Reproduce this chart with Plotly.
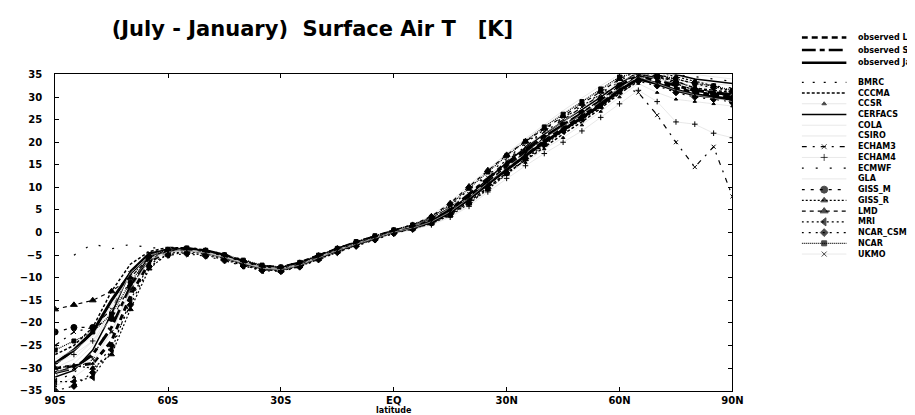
import plotly.graph_objects as go

W, H = 915, 415

lat = [-90, -85, -80, -75, -70, -65, -60, -55, -50, -45, -40, -35, -30, -25, -20, -15, -10, -5,
       0, 5, 10, 15, 20, 25, 30, 35, 40, 45, 50, 55, 60, 65, 70, 75, 80, 85, 90]
x_tickvals = [-90, -60, -30, 0, 30, 60, 90]
x_ticktext = ["90S", "60S", "30S", "EQ", "30N", "60N", "90N"]
y_tickvals = [-35, -30, -25, -20, -15, -10, -5, 0, 5, 10, 15, 20, 25, 30, 35]

obs_legates = [-30, -29.5, -29, -24, -14, -6.5, -4, -3.6, -4.2, -5.3, -6.6, -7.6, -7.9, -6.9, -5.3, -3.8, -2.4, -1.1,
               0.3, 1.2, 2.6, 4.8, 7.8, 11.2, 14.5, 17.6, 20.6, 23.4, 26.0, 28.6, 31.8, 34.5, 33.5, 32.0, 31.0, 30.5, 30.0]
obs_shea = [-31, -30, -27, -21, -12, -5.5, -3.7, -3.5, -4.0, -5.0, -6.4, -7.5, -7.7, -6.7, -5.1, -3.6, -2.2, -0.9,
            0.4, 1.4, 3.0, 5.3, 8.5, 12.0, 15.2, 18.3, 21.2, 23.8, 26.4, 29.2, 32.4, 35.0, 34.0, 32.5, 31.5, 31.0, 30.5]
obs_jaeger = [-29, -26, -22, -15, -9, -5, -3.9, -3.7, -4.3, -5.4, -6.8, -7.9, -8.0, -7.0, -5.5, -3.9, -2.5, -1.2,
              0.2, 1.0, 2.4, 4.5, 7.4, 10.8, 14.0, 17.0, 20.0, 22.8, 25.5, 28.2, 31.5, 34.0, 33.0, 31.5, 30.5, 30.0, 29.5]
bmrc = [-33, -31, -27.5, -20, -10, -5, -3.5, -3.2, -3.8, -4.8, -6.0, -7.2, -7.5, -6.5, -5.0, -3.4, -2.0, -0.7,
        0.6, 1.8, 3.5, 6.0, 9.5, 13.0, 16.5, 19.8, 22.8, 25.5, 28.0, 30.6, 33.5, 36.0, 35.0, 34.0, 33.0, 32.5, 32.0]
cccma = [-27, -25, -21, -13, -7, -4.2, -3.3, -3.4, -4.1, -5.2, -6.5, -7.6, -8.1, -7.2, -5.6, -4.0, -2.6, -1.3,
         0.0, 0.9, 2.2, 4.0, 6.8, 10.0, 13.2, 16.0, 19.0, 21.8, 24.5, 27.5, 30.8, 33.5, 34.5, 33.5, 32.0, 31.5, 31.0]
ccsr = [-34, -32, -29, -22, -13, -6, -4.5, -4.3, -4.8, -5.8, -7.0, -8.1, -8.4, -7.4, -5.9, -4.3, -2.9, -1.5,
        -0.1, 0.7, 1.9, 3.6, 6.2, 9.4, 12.8, 15.5, 18.5, 21.0, 23.8, 26.8, 30.0, 33.0, 31.0, 29.5, 29.0, 28.5, 28.0]
cerfacs = [-32, -30.5, -26, -18, -8.5, -4.5, -3.8, -3.9, -4.5, -5.6, -6.9, -8.0, -8.3, -7.3, -5.7, -4.1, -2.7, -1.4,
           0.1, 1.1, 2.7, 5.0, 8.2, 11.8, 15.5, 18.8, 21.8, 24.6, 27.2, 30.0, 33.0, 35.5, 36.0, 35.0, 34.0, 33.5, 33.0]
cola = [-30, -28, -24, -17, -9, -5, -3.9, -3.8, -4.3, -5.3, -6.6, -7.7, -8.0, -7.0, -5.4, -3.7, -2.3, -1.0,
        0.4, 1.6, 3.8, 6.8, 10.5, 14.0, 17.5, 20.5, 23.5, 26.5, 29.0, 31.5, 34.0, 36.0, 35.5, 34.5, 33.5, 33.0, 32.5]
csiro = [-28, -26, -23, -16, -9.5, -5.5, -4.2, -4.0, -4.4, -5.4, -6.7, -7.8, -8.2, -7.1, -5.5, -3.9, -2.4, -1.1,
         0.3, 1.3, 2.9, 5.5, 9.0, 12.5, 16.0, 19.0, 22.0, 24.5, 27.5, 30.5, 33.5, 35.0, 34.0, 33.0, 32.5, 32.0, 31.5]
echam3 = [-25, -22, -21, -17, -9, -4.6, -3.6, -3.5, -4.0, -5.1, -6.3, -7.4, -7.9, -6.9, -5.3, -3.7, -2.3, -1.0,
          0.3, 1.3, 2.8, 5.2, 8.6, 12.2, 15.8, 19.0, 22.3, 25.0, 27.8, 30.5, 32.5, 31.0, 26.0, 20.0, 14.5, 19.0, 8.0]
echam4 = [-29, -27, -24, -19, -11, -5.8, -4.4, -4.1, -4.6, -5.7, -7.1, -8.2, -8.5, -7.5, -6.0, -4.4, -3.0, -1.6,
          -0.2, 0.6, 1.7, 3.4, 5.8, 9.0, 12.0, 14.8, 17.5, 20.0, 22.5, 25.5, 28.5, 31.5, 29.0, 24.5, 24.0, 22.0, 21.0]
ecmwf = [None, -5, -2.5, -3.6, -2.6, -3.4, -3.4, -3.3, -3.9, -4.9, -6.2, -7.3, -7.6, -6.6, -5.0, -3.5, -2.1, -0.8,
         0.5, 1.5, 3.2, 5.8, 9.2, 12.8, 16.2, 19.5, 22.5, 25.2, 28.0, 30.8, 33.8, 36.0, 35.5, 35.0, 34.5, 34.0, 33.5]
gla = [-31, -29, -25, -17, -9, -5.2, -4.0, -3.8, -4.3, -5.3, -6.6, -7.6, -7.9, -6.9, -5.3, -3.8, -2.4, -1.1,
       0.3, 1.5, 3.3, 6.2, 10.0, 13.8, 17.5, 20.8, 24.0, 27.0, 29.8, 32.5, 35.0, 36.5, 36.0, 35.5, 35.0, 34.5, 34.0]
giss_m = [-22, -21, -21, -19, -12, -6, -4.1, -3.8, -4.2, -5.2, -6.5, -7.6, -8.0, -7.0, -5.4, -3.8, -2.4, -1.1,
          0.2, 1.1, 2.5, 4.6, 7.6, 11.0, 14.6, 17.8, 21.0, 23.8, 26.5, 29.5, 32.5, 35.5, 34.5, 33.0, 31.5, 30.5, 29.0]
giss_r = [-30, -29.5, -30, -27, -17, -8, -4.6, -4.2, -4.7, -5.8, -7.1, -8.2, -8.5, -7.5, -5.9, -4.3, -2.8, -1.5,
          0.0, 0.8, 2.0, 3.8, 6.4, 9.6, 13.0, 16.2, 19.4, 22.4, 25.0, 27.8, 31.0, 34.5, 35.5, 34.5, 33.5, 32.5, 31.0]
lmd = [-17, -16, -15, -13, -10, -5.5, -3.9, -3.6, -4.0, -5.0, -6.3, -7.4, -7.7, -6.7, -5.1, -3.5, -2.1, -0.9,
       0.5, 1.7, 3.6, 6.5, 10.2, 13.8, 17.2, 20.2, 23.0, 25.8, 28.5, 31.2, 34.0, 36.0, 35.0, 33.5, 32.0, 31.0, 30.0]
mri = [-33, -33, -32, -26, -15, -7, -4.8, -4.5, -5.0, -6.0, -7.3, -8.3, -8.3, -7.2, -5.6, -4.0, -2.6, -1.3,
       0.1, 1.0, 2.3, 4.4, 7.2, 10.5, 13.8, 16.8, 19.8, 22.5, 25.2, 28.0, 31.2, 34.0, 34.8, 34.0, 33.0, 32.0, 31.5]
ncar_csm = [-35, -34, -31, -25, -16, -7.5, -5.0, -4.7, -5.2, -6.2, -7.4, -8.4, -8.6, -7.6, -6.0, -4.4, -3.0, -1.6,
            -0.2, 0.8, 2.1, 4.0, 6.6, 9.8, 13.2, 16.4, 19.6, 22.6, 25.5, 28.5, 31.5, 33.5, 32.5, 31.0, 30.0, 29.5, 29.0]
ncar = [-26, -24, -22, -18, -11, -5.4, -3.7, -3.4, -3.9, -4.9, -6.1, -7.2, -7.6, -6.6, -5.0, -3.5, -2.0, -0.7,
        0.6, 1.7, 3.4, 6.2, 9.8, 13.4, 17.0, 20.2, 23.4, 26.2, 29.0, 31.8, 34.5, 35.5, 35.0, 34.0, 33.0, 32.5, 31.5]
ukmo = [-31, -30, -28, -22, -12.5, -6, -4.3, -4.0, -4.5, -5.5, -6.8, -7.9, -8.2, -7.2, -5.6, -4.0, -2.6, -1.3,
        0.1, 1.0, 2.4, 4.6, 7.6, 11.0, 14.4, 17.5, 20.8, 23.5, 26.2, 29.0, 32.0, 34.5, 33.0, 31.5, 30.5, 29.8, 29.0]

names = ["observed Le", "observed Sh", "observed Ja", "BMRC", "CCCMA", "CCSR", "CERFACS", "COLA",
         "CSIRO", "ECHAM3", "ECHAM4", "ECMWF", "GLA", "GISS_M", "GISS_R", "LMD", "MRI", "NCAR_CSM", "NCAR", "UKMO"]
values = [obs_legates, obs_shea, obs_jaeger, bmrc, cccma, ccsr, cerfacs, cola, csiro, echam3, echam4, ecmwf,
          gla, giss_m, giss_r, lmd, mri, ncar_csm, ncar, ukmo]

K = "black"
G = "#d9d9d9"
# (line color, width, dash, marker symbol or None, marker size)
styles = [
    (K, 3.0, "6px,4px", None, 0),
    (K, 3.0, "14px,4px,5px,4px", None, 0),
    (K, 3.0, "solid", None, 0),
    (K, 1.2, "2px,9px", None, 0),
    (K, 1.5, "3px,2px", None, 0),
    (G, 0.6, "solid", "triangle-up", 3),
    (K, 1.5, "solid", None, 0),
    (G, 0.6, "solid", None, 0),
    (G, 0.6, "solid", None, 0),
    (K, 1.2, "5px,6px,2px,6px", "x-thin-open", 4),
    (G, 0.6, "solid", "cross-thin-open", 4),
    (K, 1.2, "2px,12px", None, 0),
    (G, 0.6, "solid", None, 0),
    (K, 1.2, "3px,6px", "circle", 6),
    (K, 1.2, "2px,2px", "triangle-up", 5),
    (K, 1.2, "4px,4px", "triangle-up", 6),
    (K, 1.2, "2px,3px", "triangle-left", 6),
    (K, 1.2, "2px,5px", "diamond", 5),
    (K, 1.2, "1px,1px", "square", 4),
    (G, 0.6, "solid", "x-thin-open", 4),
]

fig = go.Figure()

for nm, vals, st in zip(names, values, styles):
    col, wd, dash, sym, ms = st
    tr = dict(x=lat, y=vals, name=nm, showlegend=False, connectgaps=False,
              line=dict(color=col, width=wd, dash=dash), xaxis="x", yaxis="y")
    if sym:
        tr["mode"] = "lines+markers"
        tr["marker"] = dict(symbol=sym, size=ms, color=K, line=dict(color=K, width=1))
    else:
        tr["mode"] = "lines"
    fig.add_trace(go.Scatter(**tr))

# compact legend to the right of the plot
rows = [25, 38, 51] + [71 + 11 * k for k in range(17)]
for nm, st, r in zip(names, styles, rows):
    col, wd, dash, sym, ms = st
    tr = dict(x=[0, 0.5, 1], y=[r, r, r], showlegend=False, hoverinfo="skip",
              line=dict(color=col, width=min(wd, 2.5), dash=dash), xaxis="x2", yaxis="y2")
    if sym:
        tr["mode"] = "lines+markers"
        tr["marker"] = dict(symbol=sym, size=[0, ms + 1, 0], color=K, line=dict(color=K, width=1))
    else:
        tr["mode"] = "lines"
    fig.add_trace(go.Scatter(**tr))
    fig.add_annotation(x=858 / W, y=1 - r / H, xref="paper", yref="paper", text=nm,
                       showarrow=False, xanchor="left", yanchor="middle",
                       font=dict(family="DejaVu Sans", size=8, color="black", weight="bold"))

x0, x1 = 37, 731
yb, yt = 387, 63

fig.update_layout(
    width=W, height=H,
    margin=dict(l=0, r=0, t=0, b=0),
    paper_bgcolor="white", plot_bgcolor="white",
    title=dict(text="(July - January)\u00a0 Surface Air T \u00a0 [K]", x=95 / W, xanchor="left",
               y=1 - 16 / H, yanchor="middle", xref="paper", yref="paper",
               font=dict(family="DejaVu Sans", size=21, color="black", weight="bold")),
    xaxis=dict(domain=[x0 / W, x1 / W], range=[-90, 90], tickvals=x_tickvals, ticktext=x_ticktext,
               showgrid=False, zeroline=False, showline=True, linecolor="black", linewidth=1, mirror="ticks",
               ticks="inside", ticklen=4, tickcolor="black",
               tickfont=dict(family="DejaVu Sans", size=10, color="black", weight="bold"),
               title=dict(text="latitude", standoff=0,
                          font=dict(family="DejaVu Sans", size=8, color="black", weight="bold"))),
    yaxis=dict(domain=[1 - yb / H, 1 - yt / H], range=[-35, 35], tickvals=y_tickvals,
               showgrid=False, zeroline=False, showline=True, linecolor="black", linewidth=1, mirror="ticks",
               ticks="inside", ticklen=4, tickcolor="black", ticklabelstandoff=10,
               tickfont=dict(family="DejaVu Sans", size=10, color="black", weight="bold")),
    xaxis2=dict(domain=[802 / W, 848 / W], range=[0, 1], visible=False, fixedrange=True),
    yaxis2=dict(domain=[0, 1], range=[H, 0], visible=False, fixedrange=True, anchor="x2"),
    showlegend=False,
)

fig.write_html("out.html")
